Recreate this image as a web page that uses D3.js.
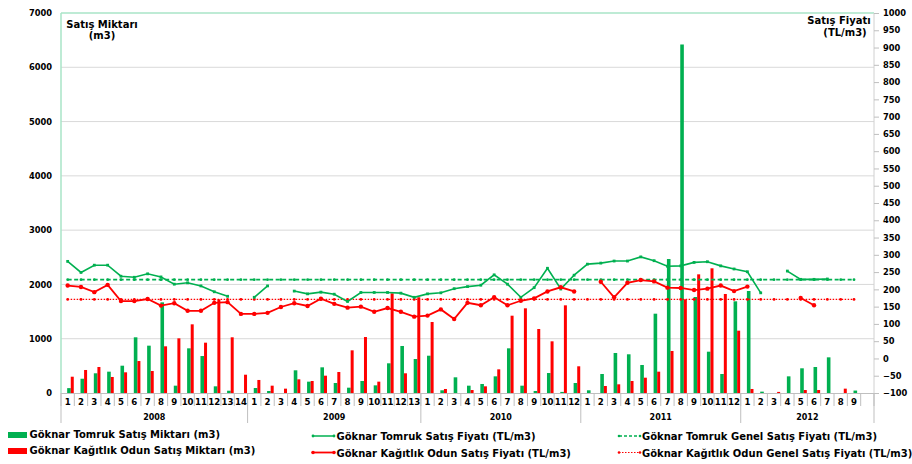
<!DOCTYPE html>
<html>
<head>
<meta charset="utf-8">
<script src="https://cdn.jsdelivr.net/npm/d3@7"></script>
<style>
  body { margin: 0; background: #fff; }
  svg { font-family: "DejaVu Sans", Verdana, sans-serif; font-weight: bold; }
</style>
</head>
<body>
<div id="chart"></div>
<script>
// categories (month numbers, grouped by year)
var years = ["2008", "2009", "2010", "2011", "2012"];
var yearSizes = [14, 13, 12, 12, 10];
var catLabels = [
  "1","2","3","4","5","6","7","8","9","10","11","12","13","14",
  "1","2","3","4","5","6","7","8","9","10","11","12","13",
  "1","2","3","4","5","6","7","8","9","10","11","12",
  "1","2","3","4","5","6","7","8","9","10","11","12",
  "1","2","3","4","5","6","7","8","9",""
];

// Göknar Tomruk Satış Miktarı (m3)
var tomrukMiktar = [
  90, 263, 363, 393, 503, 1026, 872, 1670, 135, 823, 681, 123, 42, null,
  92, 37, null, 418, 209, 473, 184, 98, 221, 141, 547, 866, 626,
  687, 50, 289, 135, 166, 307, 823, 135, 37, 368, 20, 184,
  50, 350, 737, 713, 516, 1461, 2468, 6420, 1768, 761, 350, 1689,
  1879, 25, null, 307, 455, 479, 657, null, 45, null
];
// Göknar Kağıtlık Odun Satış Miktarı (m3)
var odunMiktar = [
  300, 424, 479, 295, 381, 589, 405, 860, 1007, 1265, 927, 1726, 1026, 337,
  240, 135, 80, 252, 221, 319, 387, 786, 1031, 209, 1836, 363, 1763,
  1308, 74, null, 55, 123, 436, 1424, 1560, 1179, 952, 1615, 492,
  null, 129, 160, 221, 282, 393, 774, 1726, 2186, 2297, 1824, 1148,
  74, null, 20, null, 55, 55, null, 80, null, null
];
// Göknar Tomruk Satış Fiyatı (TL/m3)
var tomrukFiyat = [
  281, 249, 270, 270, 238, 235, 245, 236, 215, 219, 210, 193, 180, null,
  177, 210, null, 195, 187, 192, 186, 165, 191, 191, 191, 189, 177,
  187, 190, 202, 208, 212, 242, 215, 177, 205, 261, 201, 241,
  273, 276, 282, 282, 294, 283, 267, 268, 278, 280, 268, 259,
  251, 190, null, 253, 229, 229, 230, null, null, null
];
// Göknar Kağıtlık Odun Satış Fiyatı (TL/m3)
var odunFiyat = [
  211, 207, 192, 213, 166, 166, 172, 153, 160, 138, 138, 161, 163, 129,
  129, 132, 149, 160, 152, 173, 158, 147, 150, 135, 146, 135, 121,
  124, 142, 114, 161, 154, 177, 154, 167, 174, 194, 206, 194,
  null, 222, 177, 219, 227, 223, 205, 204, 198, 202, 211, 195,
  208, null, null, null, 175, 154, null, null, null, null
];
// genel satış fiyatları (constant reference lines)
var tomrukGenel = 228;
var odunGenel = 171;

var leftTicks = [0, 1000, 2000, 3000, 4000, 5000, 6000, 7000];
var rightTicks = d3.range(-100, 1001, 50);

var green = "#00b050", red = "#ff0000";

var W = 912, H = 464;
var plot = {left: 61, right: 874, top: 13, bottom: 393};

var svg = d3.select("#chart").append("svg")
  .attr("width", W).attr("height", H);

var n = catLabels.length;
var x = d3.scaleBand().domain(d3.range(n)).range([plot.left, plot.right]).padding(0);
var bw = x.bandwidth();
var cx = function(i) { return x(i) + bw / 2; };

var yL = d3.scaleLinear().domain([0, 7000]).range([plot.bottom, plot.top]);
var yR = d3.scaleLinear().domain([-100, 1000]).range([plot.bottom, plot.top]);

// gridlines
svg.append("g").selectAll("line")
  .data(leftTicks.filter(function(d){ return d > 0 && d < 7000; }))
  .enter().append("line")
    .attr("x1", plot.left).attr("x2", plot.right)
    .attr("y1", function(d){ return yL(d); }).attr("y2", function(d){ return yL(d); })
    .attr("stroke", "#d9d9d9").attr("stroke-width", 1);

// plot frame
svg.append("line").attr("x1", plot.left).attr("x2", plot.right)
  .attr("y1", plot.top).attr("y2", plot.top)
  .attr("stroke", "#a9e5c7").attr("stroke-width", 1.5);
svg.append("line").attr("x1", plot.left).attr("x2", plot.left)
  .attr("y1", plot.top).attr("y2", plot.bottom)
  .attr("stroke", "#a9e5c7").attr("stroke-width", 1.5);
svg.append("line").attr("x1", plot.right).attr("x2", plot.right)
  .attr("y1", plot.top).attr("y2", plot.bottom)
  .attr("stroke", "#d0d0d0").attr("stroke-width", 1);

// left axis
var axL = svg.append("g")
  .attr("transform", "translate(" + (plot.left - 9) + ",0)")
  .call(d3.axisLeft(yL).tickValues(leftTicks).tickSize(0).tickPadding(0).tickFormat(d3.format("d")));
axL.select(".domain").remove();
axL.selectAll("text").style("font-size", "8.3px").style("font-family", "DejaVu Sans").style("font-weight", "bold").attr("fill", "#000");

// right axis
var axR = svg.append("g")
  .attr("transform", "translate(" + plot.right + ",0)")
  .call(d3.axisRight(yR).tickValues(rightTicks).tickSize(5).tickPadding(4).tickFormat(d3.format("d")));
axR.select(".domain").remove();
axR.selectAll("line").attr("stroke", "#bfbfbf");
axR.selectAll("text").style("font-size", "8.3px").style("font-family", "DejaVu Sans").style("font-weight", "bold").attr("fill", "#000");

// bars
svg.append("g").selectAll("rect")
  .data(tomrukMiktar.map(function(v, i){ return {i: i, v: v}; }).filter(function(d){ return d.v != null; }))
  .enter().append("rect")
    .attr("x", function(d){ return cx(d.i) - 0.5; })
    .attr("width", 3.6)
    .attr("y", function(d){ return yL(d.v); })
    .attr("height", function(d){ return plot.bottom - yL(d.v); })
    .attr("fill", green);

svg.append("g").selectAll("rect")
  .data(odunMiktar.map(function(v, i){ return {i: i, v: v}; }).filter(function(d){ return d.v != null; }))
  .enter().append("rect")
    .attr("x", function(d){ return cx(d.i) + 3.1; })
    .attr("width", 3)
    .attr("y", function(d){ return yL(d.v); })
    .attr("height", function(d){ return plot.bottom - yL(d.v); })
    .attr("fill", red);

// x axis baseline + multi-level ticks
svg.append("line").attr("x1", plot.left).attr("x2", plot.right)
  .attr("y1", plot.bottom + 0.5).attr("y2", plot.bottom + 0.5)
  .attr("stroke", "#bfbfbf");

svg.append("g").selectAll("line")
  .data(d3.range(n + 1))
  .enter().append("line")
    .attr("x1", function(i){ return plot.left + i * bw; })
    .attr("x2", function(i){ return plot.left + i * bw; })
    .attr("y1", plot.bottom).attr("y2", plot.bottom + 13)
    .attr("stroke", "#bfbfbf");

var starts = [0];
yearSizes.forEach(function(s, k){ starts.push(starts[k] + s); });

svg.append("g").selectAll("line")
  .data(starts)
  .enter().append("line")
    .attr("x1", function(i){ return plot.left + i * bw; })
    .attr("x2", function(i){ return plot.left + i * bw; })
    .attr("y1", plot.bottom).attr("y2", plot.bottom + 30)
    .attr("stroke", "#bfbfbf");

svg.append("g").selectAll("text")
  .data(catLabels)
  .enter().append("text")
    .attr("x", function(d, i){ return cx(i); })
    .attr("y", 405)
    .attr("text-anchor", "middle")
    .style("font-size", "8.6px")
    .text(function(d){ return d; });

svg.append("g").selectAll("text")
  .data(years)
  .enter().append("text")
    .attr("x", function(d, k){ return plot.left + (starts[k] + yearSizes[k] / 2) * bw; })
    .attr("y", 420)
    .attr("text-anchor", "middle")
    .style("font-size", "8px")
    .text(function(d){ return d; });

// general price lines
function genLine(val, color, dash, sw) {
  var pts = d3.range(n - 1);
  svg.append("path")
    .datum(pts)
    .attr("d", d3.line().x(function(i){ return cx(i); }).y(function(){ return yR(val); }))
    .attr("fill", "none").attr("stroke", color)
    .attr("stroke-width", sw).attr("stroke-dasharray", dash);
  svg.append("g").selectAll("circle")
    .data(pts).enter().append("circle")
      .attr("cx", function(i){ return cx(i); })
      .attr("cy", yR(val))
      .attr("r", 1.4).attr("fill", color);
}
genLine(tomrukGenel, green, "4,2.5", 1.8);
genLine(odunGenel, red, "1.5,1.5", 1.2);

// price lines
var line = d3.line()
  .defined(function(d){ return d != null; })
  .x(function(d, i){ return cx(i); })
  .y(function(d){ return yR(d); });

svg.append("path").datum(tomrukFiyat)
  .attr("d", line).attr("fill", "none")
  .attr("stroke", green).attr("stroke-width", 1.6);
svg.append("g").selectAll("rect")
  .data(tomrukFiyat.map(function(v, i){ return {i: i, v: v}; }).filter(function(d){ return d.v != null; }))
  .enter().append("rect")
    .attr("x", function(d){ return cx(d.i) - 1.4; })
    .attr("y", function(d){ return yR(d.v) - 1.4; })
    .attr("width", 2.8).attr("height", 2.8)
    .attr("fill", green);

svg.append("path").datum(odunFiyat)
  .attr("d", line).attr("fill", "none")
  .attr("stroke", red).attr("stroke-width", 1.8);
svg.append("g").selectAll("circle")
  .data(odunFiyat.map(function(v, i){ return {i: i, v: v}; }).filter(function(d){ return d.v != null; }))
  .enter().append("circle")
    .attr("cx", function(d){ return cx(d.i); })
    .attr("cy", function(d){ return yR(d.v); })
    .attr("r", 2.2)
    .attr("fill", red);

// axis titles
svg.append("text").attr("x", 102).attr("y", 28).attr("text-anchor", "middle")
  .style("font-size", "10px").text("Satış Miktarı");
svg.append("text").attr("x", 102).attr("y", 39).attr("text-anchor", "middle")
  .style("font-size", "10px").text("(m3)");
svg.append("text").attr("x", 839).attr("y", 24).attr("text-anchor", "middle")
  .style("font-size", "10px").text("Satış Fiyatı");
svg.append("text").attr("x", 845).attr("y", 36).attr("text-anchor", "middle")
  .style("font-size", "10px").text("(TL/m3)");

// legend
var lg = svg.append("g").style("font-size", "10px");
lg.append("rect").attr("x", 8).attr("y", 432).attr("width", 19).attr("height", 6).attr("fill", green);
lg.append("text").attr("x", 29.5).attr("y", 438).text("Göknar Tomruk Satış Miktarı (m3)");
lg.append("rect").attr("x", 8).attr("y", 448).attr("width", 19).attr("height", 6).attr("fill", red);
lg.append("text").attr("x", 29.5).attr("y", 454).text("Göknar Kağıtlık Odun Satış Miktarı (m3)");

function legLine(x0, y0, color, dash, sw, r) {
  lg.append("line").attr("x1", x0).attr("x2", x0 + 21).attr("y1", y0).attr("y2", y0)
    .attr("stroke", color).attr("stroke-width", sw).attr("stroke-dasharray", dash);
  lg.append("circle").attr("cx", x0).attr("cy", y0).attr("r", r).attr("fill", color);
  lg.append("circle").attr("cx", x0 + 21).attr("cy", y0).attr("r", r).attr("fill", color);
}
legLine(313, 436, green, null, 1.5, 1.4);
lg.append("text").attr("x", 336.5).attr("y", 440).text("Göknar Tomruk Satış Fiyatı (TL/m3)");
legLine(313, 452.5, red, null, 1.8, 1.8);
lg.append("text").attr("x", 336.5).attr("y", 456.5).text("Göknar Kağıtlık Odun Satış Fiyatı (TL/m3)");

legLine(619, 436, green, "3,2", 1.6, 1.3);
lg.append("text").attr("x", 642).attr("y", 440).text("Göknar Tomruk Genel Satış Fiyatı (TL/m3)");
legLine(619, 452.5, red, "1.5,1.5", 1.2, 1.3);
lg.append("text").attr("x", 642).attr("y", 456.5).text("Göknar Kağıtlık Odun Genel Satış Fiyatı (TL/m3)");
</script>
</body>
</html>
